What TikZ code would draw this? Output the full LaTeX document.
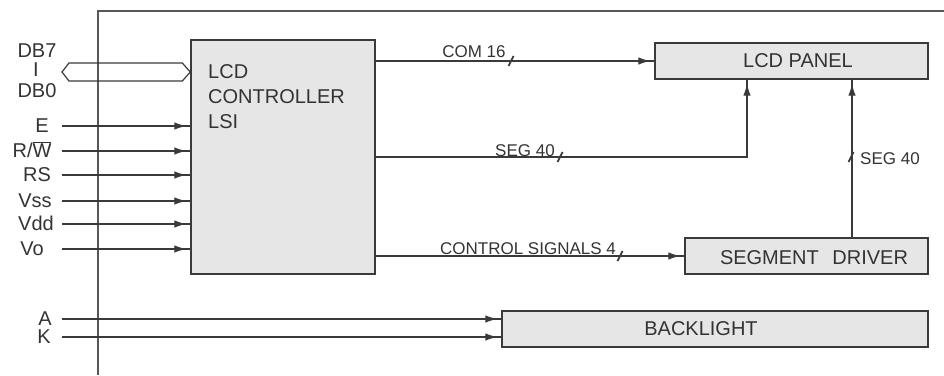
\documentclass[tikz,border=0pt]{standalone}
\usepackage{fontspec}
\setmainfont{Liberation Sans}
\usetikzlibrary{arrows.meta,calc}
\definecolor{ln}{HTML}{3A3A3A}
\definecolor{tx}{HTML}{333333}
\definecolor{bx}{HTML}{E6E6E6}
\begin{document}
\begin{tikzpicture}[x=1pt,y=-1pt,
  wire/.style={draw=ln,line width=1.3pt},
  arr/.style={wire,postaction={draw=ln,line width=1.3pt,
    -{Latex[length=12pt,width=7.5pt]},shorten >=4pt}},
  blk/.style={draw=ln,line width=1.4pt,fill=bx,rectangle,inner sep=0pt},
  big/.style={text=tx,font=\fontsize{20}{24}\selectfont,inner sep=0pt},
  sml/.style={text=tx,font=\fontsize{17}{20}\selectfont,inner sep=0pt},
  tick/.style={draw=ln,line width=1.8pt}]
\useasboundingbox (0,0) rectangle (944,375);
% frame
\draw[draw=ln!85,line width=1.2pt] (944,11) -- (98,11) -- (98,375);
% blocks
\node[blk,minimum width=184pt,minimum height=234pt] (ctl) at (283,157) {};
\node[blk,minimum width=273pt,minimum height=36pt] (panel) at (791.5,61) {};
\node[blk,minimum width=243pt,minimum height=36pt] (seg) at (806.5,256) {};
\node[blk,minimum width=426pt,minimum height=36pt] (back) at (715,329) {};
% block texts
\node[big,anchor=base west] (ctlA) at (208,78) {LCD};
\node[big,anchor=base west] (ctlB) at (208,103) {CONTROLLER};
\node[big,anchor=base west] (ctlC) at (208,128) {LSI};
\node[big,anchor=base] (panelT) at (798,67) {LCD PANEL};
\node[big,anchor=base] (segT) at (814,264) {SEGMENT\hspace{0.4em} DRIVER};
\node[big,anchor=base] (backT) at (701,335) {BACKLIGHT};
% data bus
\coordinate (busL) at (62,72);
\coordinate (busR) at (ctl.west |- busL);
\draw[wire,line width=1.2pt] (busL) -- ($(busL)+(7,-9)$) -- ($(busR)+(-8,-9)$) -- (busR)
  -- ($(busR)+(-8,9)$) -- ($(busL)+(7,9)$) -- cycle;
\node[big,anchor=base] (db7) at (37,57) {DB7};
\node[big,anchor=base] (dbi) at (36,76) {I};
\node[big,anchor=base] (db0) at (37,97) {DB0};
% input signals
\foreach \n/\y/\cx/\t in {E/126/42/E, RW/151/32/{R/$\overline{\hbox{W}}$}, RS/175/37/RS, Vss/201/35/Vss, Vdd/224/36/Vdd, Vo/249/32/Vo}{
  \coordinate (p\n) at (62,\y);
  \draw[arr] (p\n) -- (p\n -| ctl.west);
  \node[big,anchor=base] (l\n) at (\cx,\y+6.5) {\t};
}
\foreach \n/\y/\cx in {A/319/45, K/337/44}{
  \coordinate (p\n) at (62,\y);
  \draw[arr] (p\n) -- (p\n -| back.west);
  \node[big,anchor=base] (l\n) at (\cx,\y+6.5) {\n};
}
% outputs
\draw[arr] (ctl.east |- panel.west) -- (panel.west);
\coordinate (bend) at (747,157);
\draw[arr] (ctl.east |- bend) -- (bend) -- (bend |- panel.south);
\draw[arr] (ctl.east |- seg.west) -- (seg.west);
\coordinate (sv) at (852,157);
\draw[arr] (sv |- seg.north) -- (sv |- panel.south);
% bus width ticks
\foreach \tx/\ty in {511/61,560/157,620/256,851/157}{
  \draw[tick] (\tx-2.5,\ty+5) -- (\tx+2.5,\ty-5);
}
% labels
\node[sml,anchor=base] (com) at (474,57) {COM 16};
\node[sml,anchor=base] (seg40) at (525,156) {SEG 40};
\node[sml,anchor=base] (ctrl) at (528,254) {CONTROL SIGNALS 4};
\node[sml,anchor=base west] (seg40v) at (860,164) {SEG 40};
\end{tikzpicture}
\end{document}
